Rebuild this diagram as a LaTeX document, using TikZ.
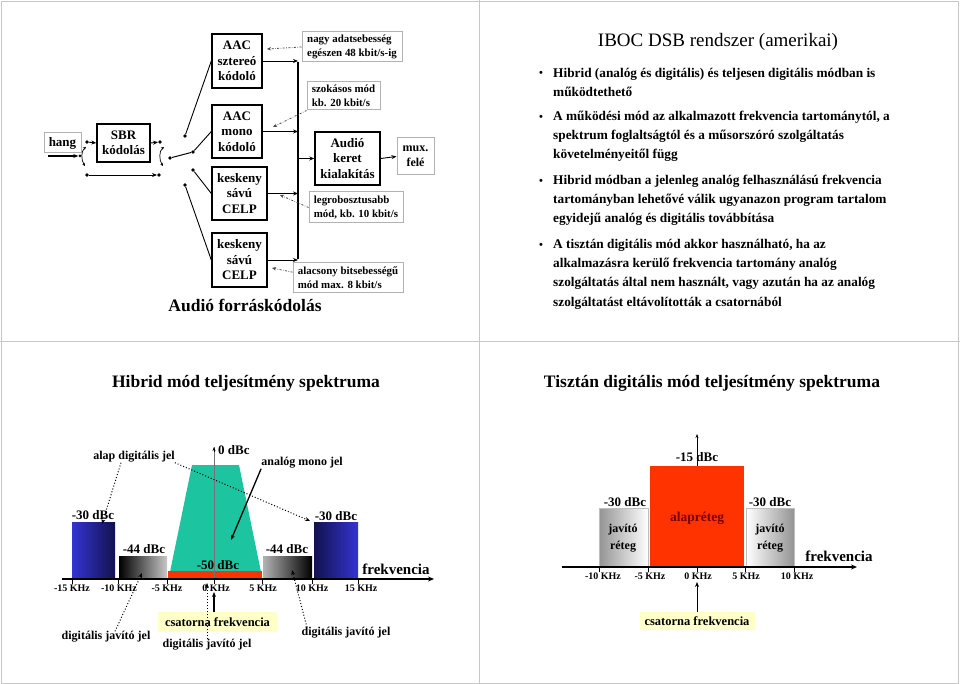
\documentclass[tikz,border=0pt]{standalone}
\usepackage{fontspec}
\setmainfont{Liberation Serif}
\usetikzlibrary{arrows.meta}
\definecolor{blA}{RGB}{52,52,210}
\definecolor{blB}{RGB}{18,18,78}
\definecolor{tealA}{RGB}{28,196,160}
\definecolor{redA}{RGB}{255,51,0}
\definecolor{maroonA}{RGB}{120,0,0}
\definecolor{hlA}{RGB}{255,255,200}
\begin{document}
\begin{tikzpicture}[x=1pt,y=-1pt,
  blk/.style={draw, line width=1.4pt, align=center, inner sep=0pt, font=\bfseries\fontsize{13}{15.5}\selectfont},
  gbox/.style={draw=black!30, line width=1pt, align=center, inner sep=0pt, font=\bfseries\fontsize{13}{15.5}\selectfont},
  note/.style={draw=black!30, line width=1pt, align=left, inner sep=0pt, font=\bfseries\fontsize{10.9}{14}\selectfont},
  dotn/.style={circle, fill, inner sep=0pt, minimum size=3.6pt},
  arr/.style={-{Stealth[length=5pt,width=4pt]}, line width=0.9pt},
  ddarr/.style={-{Stealth[length=4pt,width=3.5pt]}, line width=0.8pt, black!70, dash pattern=on 2pt off 1.5pt on 0.6pt off 1.5pt},
  dotarr/.style={-{Stealth[length=5pt,width=4pt]}, line width=1pt, dotted},
  tlab/.style={font=\bfseries\fontsize{10}{12}\selectfont, inner sep=0pt},
  dbc/.style={font=\bfseries\fontsize{13}{15}\selectfont, inner sep=0pt},
  lab/.style={font=\bfseries\fontsize{12}{14}\selectfont, inner sep=0pt},
  frq/.style={font=\bfseries\fontsize{15}{17}\selectfont, inner sep=0pt},
  hl/.style={fill=hlA, inner sep=0pt, font=\bfseries\fontsize{12.5}{14}\selectfont},
  panel/.style={draw=black!22, line width=0.8pt},
  btxt/.style={anchor=base west, inner sep=0pt, font=\bfseries\fontsize{13.3}{16}\selectfont},
  bul/.style={inner sep=0pt, font=\bfseries\fontsize{11}{12}\selectfont},
  sttl/.style={font=\bfseries\fontsize{17.5}{20}\selectfont, inner sep=0pt},
]
\useasboundingbox (0,0) rectangle (960,684);
\fill[white] (0,0) rectangle (960,684);
% panel frames
\draw[panel] (1,1) rectangle (958,683);
\draw[panel] (479,0) -- (479,684);
\draw[panel] (0,341) -- (960,341);

% ---------------- top-left: source coding ----------------
\node[gbox, minimum width=37pt, minimum height=20pt] (hang) at (62.5,143) {hang};
\node[blk, minimum width=53pt, minimum height=38pt] (sbr) at (123.5,143) {SBR\\kódolás};
\node[blk, minimum width=50pt, minimum height=54pt] (aacs) at (237,61) {AAC\\sztereó\\kódoló};
\node[blk, minimum width=50pt, minimum height=53pt] (aacm) at (237,131.5) {AAC\\mono\\kódoló};
\node[blk, minimum width=55pt, minimum height=53pt] (k1) at (239.5,193.5) {keskeny\\sávú\\CELP};
\node[blk, minimum width=55pt, minimum height=54pt] (k2) at (239.5,260) {keskeny\\sávú\\CELP};
\node[blk, minimum width=65pt, minimum height=53pt] (keret) at (347.5,158.5) {Audió\\keret\\kialakítás};
\node[gbox, minimum width=37pt, minimum height=37pt, font=\bfseries\fontsize{12}{15}\selectfont] (mux) at (415.5,156.5) {mux.\\felé};

\node[note, minimum width=100pt, minimum height=30pt] (n1) at (352,47) {nagy adatsebesség\\egészen 48 kbit/s-ig};
\node[note, minimum width=73pt, minimum height=28pt] (n2) at (343.5,96) {szokásos mód\\kb. 20 kbit/s};
\node[note, minimum width=94pt, minimum height=31pt] (n3) at (356,207.5) {legrobosztusabb\\mód, kb. 10 kbit/s};
\node[note, minimum width=110pt, minimum height=30pt] (n4) at (348,278) {alacsony bitsebességű\\mód max. 8 kbit/s};

\node[dotn] (i0) at (87,142) {};
\node[dotn] (i1) at (87,175) {};
\node[dotn] (o0) at (160,142) {};
\node[dotn] (o1) at (159,175) {};
\node[dotn, minimum size=3pt] (ip) at (80,156) {};
\node[dotn] (pv) at (170,158) {};
\node[dotn] (cs) at (185,136) {};
\node[dotn] (cm) at (193,152) {};
\node[dotn] (ck1) at (193,170) {};
\node[dotn] (ck2) at (185,185) {};
\coordinate (inS) at (48,156);

\draw[-{Stealth[length=5pt,width=4pt]}, line width=1.6pt] (inS) -- (ip);
\draw[arr] (i0) -- (sbr.west);
\draw[arr] (sbr.east) -- (o0);
\draw[arr] (i1) -- (o1);
\draw[{Stealth[length=3pt,width=3pt]}-{Stealth[length=3pt,width=3pt]}, line width=0.7pt] (86,147) .. controls (81,151) and (81,160) .. (85,166);
\draw[{Stealth[length=3pt,width=3pt]}-{Stealth[length=3pt,width=3pt]}, line width=0.7pt] (164,147) .. controls (159,151) and (159,160) .. (163,166);
\draw[line width=1pt] (pv) -- (cm);
\draw[line width=0.9pt] (cs) -- (aacs.west);
\draw[line width=0.9pt] (cm) -- (aacm.west);
\draw[line width=0.9pt] (ck1) -- (k1.west);
\draw[line width=0.9pt] (ck2) -- (k2.west);

\coordinate (bt) at (298,62);
\coordinate (bb) at (298,259);
\draw[line width=1.1pt] (bt) -- (bb);
\draw[arr] (aacs.east) -- (aacs.east -| bt);
\draw[arr, line width=1.8pt] (aacm.east) -- (aacm.east -| bt);
\draw[arr] (k1.east) -- (k1.east -| bt);
\draw[arr] (k2.east) -- (k2.east -| bt);
\draw[arr] (keret.west -| bt) -- (keret.west);
\draw[arr] (keret.east) -- (mux.west);

\coordinate (t1) at (267,49);
\coordinate (t2) at (273,127);
\coordinate (t3) at (280,195);
\coordinate (t4) at (272,268);
\draw[ddarr] (n1.west) -- (t1);
\draw[ddarr] (n2.south west) -- (t2);
\draw[ddarr] (n3.west) -- (t3);
\draw[ddarr] (n4.174) -- (t4);

\node[font=\bfseries\fontsize{17.5}{20}\selectfont] (afk) at (245,305) {Audió forráskódolás};

% ---------------- top-right: text ----------------
\node[font=\fontsize{19}{22}\selectfont] (ibt) at (718,42) {IBOC DSB rendszer (amerikai)};
\node[bul] (u1) at (541,74) {•};
\node[bul] (u2) at (541,118) {•};
\node[bul] (u3) at (541,182) {•};
\node[bul] (u4) at (541,246) {•};
\node[btxt] (l1) at (553,77.5) {Hibrid (analóg és digitális) és teljesen digitális módban is};
\node[btxt] (l2) at (553,97) {működtethető};
\node[btxt] (l3) at (553,121) {A működési mód az alkalmazott frekvencia tartománytól, a};
\node[btxt] (l4) at (553,140) {spektrum foglaltságtól és a műsorszóró szolgáltatás};
\node[btxt] (l5) at (553,159) {követelményeitől függ};
\node[btxt] (l6) at (553,185) {Hibrid módban a jelenleg analóg felhasználású frekvencia};
\node[btxt] (l7) at (553,204) {tartományban lehetővé válik ugyanazon program tartalom};
\node[btxt] (l8) at (553,223) {egyidejű analóg és digitális továbbítása};
\node[btxt] (l9) at (553,249) {A tisztán digitális mód akkor használható, ha az};
\node[btxt] (l10) at (553,268) {alkalmazásra kerülő frekvencia tartomány analóg};
\node[btxt] (l11) at (553,287) {szolgáltatás által nem használt, vagy azután ha az analóg};
\node[btxt] (l12) at (553,306) {szolgáltatást eltávolították a csatornából};

% ---------------- bottom-left: hybrid spectrum ----------------
\node[sttl] (h1) at (246,383) {Hibrid mód teljesítmény spektruma};

\fill[left color=blA, right color=blB] (72,522) rectangle (115,579);
\fill[left color=black, right color=black!22] (119,556) rectangle (167,579);
\fill[tealA] (170,572) -- (192,465) -- (239,465) -- (261,572) -- cycle;
\fill[redA] (168,571) rectangle (262,579);
\fill[left color=black!30, right color=black] (263,556) rectangle (312,579);
\fill[left color=blB, right color=blA] (314,522) rectangle (358,579);

\coordinate (aL) at (62,579);
\coordinate (aR) at (434,579);
\coordinate (v0) at (214,579);
\coordinate (v1) at (214,447);
\draw[black!55, line width=0.8pt] (v0) -- (v1);
\draw[-{Stealth[length=4pt,width=3pt]}, line width=0.6pt] (214,452) -- (v1);
\draw[line width=1.3pt, -{Stealth[length=6pt,width=5pt]}] (aL) -- (aR);
\foreach \x in {72,118,167,214,262,312,358} \draw[line width=0.7pt] (\x,579) -- (\x,584);

\node[tlab] (fa1) at (72,588) {-15 KHz};
\node[tlab] (fa2) at (119,588) {-10 KHz};
\node[tlab] (fa3) at (167,588) {-5 KHz};
\node[tlab] (fa4) at (216,588) {0 KHz};
\node[tlab] (fa5) at (263,588) {5 KHz};
\node[tlab] (fa6) at (312,588) {10 KHz};
\node[tlab] (fa7) at (361,588) {15 KHz};

\node[dbc] (d1) at (93,515) {-30 dBc};
\node[dbc] (d2) at (144,549) {-44 dBc};
\node[dbc] (d3) at (218,565) {-50 dBc};
\node[dbc] (d4) at (287,549) {-44 dBc};
\node[dbc] (d5) at (336,516) {-30 dBc};
\node[dbc, anchor=west] (d0) at (218,450) {0 dBc};
\node[frq] (fr1) at (396,569) {frekvencia};
\node[lab] (alap) at (134,457) {alap digitális jel};
\node[lab] (amono) at (302,463) {analóg mono jel};
\node[lab] (dj1) at (106,637) {digitális javító jel};
\node[hl, minimum width=119pt, minimum height=20pt] (cf1) at (217.5,622) {csatorna frekvencia};
\node[lab] (dj2) at (207,645) {digitális javító jel};
\node[lab] (dj3) at (346,633) {digitális javító jel};

\coordinate (a1) at (102,524);
\coordinate (a2) at (310,521);
\coordinate (a3) at (231,540);
\coordinate (a4) at (142,573);
\coordinate (a5) at (207,583);
\coordinate (a6) at (292,570);
\coordinate (a7) at (214,592);
\draw[dotarr] ([xshift=-13pt]alap.south) -- (a1);
\draw[dotarr] (alap.south east) -- (a2);
\draw[arr, line width=1.3pt] (amono.south west) -- (a3);
\draw[dotarr] ([xshift=9pt]dj1.north) -- (a4);
\draw[dotarr] (dj2.north) -- (a5);
\draw[dotarr] ([xshift=-39pt]dj3.north) -- (a6);
\draw[arr, line width=1.3pt] ([xshift=-3.5pt]cf1.north) -- (a7);

% ---------------- bottom-right: digital spectrum ----------------
\node[sttl] (h2) at (712,383) {Tisztán digitális mód teljesítmény spektruma};

\coordinate (w0) at (697,567);
\coordinate (w1) at (697,434);
\draw[line width=0.8pt, -{Stealth[length=4pt,width=3pt]}] (w0) -- (w1);
\fill[left color=black!42, right color=white, draw=black!25, line width=0.5pt] (599,508) rectangle (648,567);
\fill[redA] (650,466) rectangle (744,567);
\fill[left color=white, right color=black!42, draw=black!25, line width=0.5pt] (746,508) rectangle (794,567);

\coordinate (bL) at (562,567);
\coordinate (bR) at (857,567);
\draw[line width=1.3pt, -{Stealth[length=6pt,width=5pt]}] (bL) -- (bR);
\foreach \x in {599,648,697,745,794} \draw[line width=0.7pt] (\x,567) -- (\x,572);

\node[tlab] (fb1) at (603,576) {-10 KHz};
\node[tlab] (fb2) at (650,576) {-5 KHz};
\node[tlab] (fb3) at (698,576) {0 KHz};
\node[tlab] (fb4) at (746,576) {5 KHz};
\node[tlab] (fb5) at (797,576) {10 KHz};

\node[dbc] (e1) at (625,502) {-30 dBc};
\node[dbc] (e2) at (770,502) {-30 dBc};
\node[dbc] (e3) at (697,457) {-15 dBc};
\node[font=\bfseries\fontsize{13.5}{15}\selectfont, text=maroonA, inner sep=0pt] (alr) at (697,518) {alapréteg};
\node[font=\bfseries\fontsize{12}{17}\selectfont, align=center, inner sep=0pt] (jr1) at (623,538.5) {javító\\réteg};
\node[font=\bfseries\fontsize{12}{17}\selectfont, align=center, inner sep=0pt] (jr2) at (770,538.5) {javító\\réteg};
\node[frq] (fr2) at (839,556) {frekvencia};
\node[hl, minimum width=115pt, minimum height=18pt] (cf2) at (697,621) {csatorna frekvencia};
\coordinate (a8) at (697,582);
\draw[arr, line width=1pt] (cf2.north) -- (a8);
\end{tikzpicture}
\end{document}
